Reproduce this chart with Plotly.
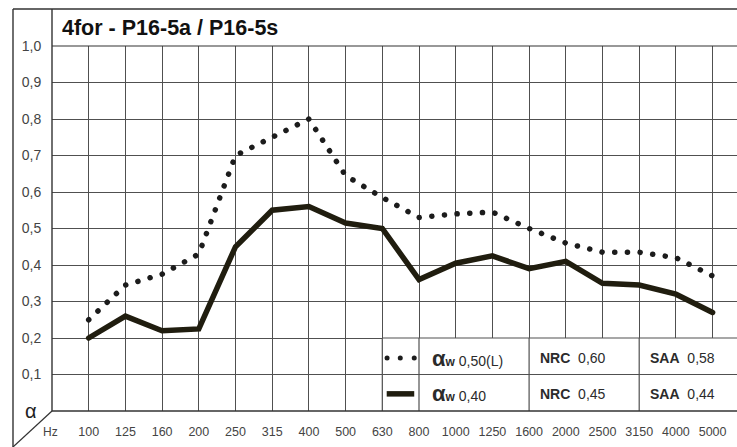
import plotly.graph_objects as go

# ---- data ----
freqs = ["100", "125", "160", "200", "250", "315", "400", "500", "630", "800",
         "1000", "1250", "1600", "2000", "2500", "3150", "4000", "5000"]
alpha_dotted = [0.25, 0.345, 0.375, 0.43, 0.70, 0.75, 0.80, 0.645, 0.585, 0.53,
                0.54, 0.545, 0.50, 0.46, 0.435, 0.435, 0.42, 0.37]
alpha_solid = [0.20, 0.26, 0.22, 0.225, 0.45, 0.55, 0.56, 0.515, 0.50, 0.36,
               0.405, 0.425, 0.39, 0.41, 0.35, 0.345, 0.32, 0.27]
ytick_vals = [0.1, 0.2, 0.3, 0.4, 0.5, 0.6, 0.7, 0.8, 0.9, 1.0]
ytick_text = ["0,1", "0,2", "0,3", "0,4", "0,5", "0,6", "0,7", "0,8", "0,9", "1,0"]
title = "4for - P16-5a / P16-5s"
legend_rows = [
    ("0,50(L)", "0,60", "0,58"),
    ("0,40", "0,45", "0,44"),
]

FONT = "Liberation Sans, Arial, sans-serif"
GRID = "#505050"
idx = list(range(len(freqs)))
XMAX = 17.665

fig = go.Figure()
fig.add_trace(go.Scatter(x=idx, y=alpha_dotted, mode="lines",
                         line=dict(color="#1c1c1c", width=5.5, dash="0.1px,12.6px"),
                         hoverinfo="skip", showlegend=False))
fig.add_trace(go.Scatter(x=idx, y=alpha_solid, mode="lines",
                         line=dict(color="#201d0f", width=5.5),
                         hoverinfo="skip", showlegend=False))

shapes = []
def pline(x0, y0, x1, y1, ref="paper", w=1.2, color=GRID):
    shapes.append(dict(type="line", xref=ref if ref == "paper" else "x",
                       yref=ref if ref == "paper" else "y",
                       x0=x0, y0=y0, x1=x1, y1=y1, layer="above",
                       line=dict(color=color, width=w)))

# outer frame
TOPQ = (411 - 9) / 365
BOTQ = (411 - 447) / 365
LEFTP = (13 - 52) / 685
pline(LEFTP, TOPQ, 1.0, TOPQ, color="#333333", w=1.4)
pline(LEFTP, TOPQ, LEFTP, BOTQ, color="#333333", w=1.4)
pline(0, TOPQ, 0, 0, color="#333333", w=1.4)
pline(0, 1, 1, 1, color="#333333", w=1.2)
pline(0, 0, LEFTP, BOTQ, color="#333333", w=1.2)

# legend table (white cell block)
shapes.append(dict(type="rect", xref="x", yref="y", x0=8, x1=XMAX, y0=0, y1=0.2,
                   fillcolor="white", line=dict(width=0), layer="above"))
for yy in (0.1, 0.2):
    pline(8, yy, XMAX, yy, ref="data")
for xx in (8, 9, 12, 15):
    pline(xx, 0, xx, 0.2, ref="data")
pline(0, 0, 1, 0, color="#333333", w=1.4)

# legend swatches
for xd in (8.13, 8.49, 8.87):
    shapes.append(dict(type="circle", xref="x", yref="y", xsizemode="pixel",
                       ysizemode="pixel", xanchor=xd, yanchor=0.145,
                       x0=-2.5, x1=2.5, y0=-2.5, y1=2.5,
                       fillcolor="#1c1c1c", line=dict(width=0), layer="above"))
shapes.append(dict(type="line", xref="x", yref="y", x0=8.12, x1=8.87, y0=0.047, y1=0.047,
                   line=dict(color="#201d0f", width=5.5), layer="above"))

annotations = []
annotations.append(dict(xref="paper", yref="paper", x=(60 - 52) / 685, y=(411 - 28) / 365,
                        xanchor="left", yanchor="middle", showarrow=False,
                        text="<b>" + title + "</b>",
                        font=dict(family=FONT, size=21.5, color="#111111")))
annotations.append(dict(xref="paper", yref="paper", x=(31 - 52) / 685, y=(411 - 411) / 365,
                        xanchor="center", yanchor="middle", showarrow=False,
                        text="α", font=dict(family=FONT, size=20, color="#222222")))
annotations.append(dict(xref="paper", yref="paper", x=(50 - 52) / 685, y=(411 - 432) / 365,
                        xanchor="center", yanchor="middle", showarrow=False,
                        text="Hz", font=dict(family=FONT, size=12, color="#444444")))
row_y = [0.145, 0.047]
for (aw, nrc, saa), yy in zip(legend_rows, row_y):
    annotations.append(dict(xref="x", yref="y", x=9.3, y=yy, xanchor="left", yanchor="middle",
                            showarrow=False,
                            text="<b style='font-size:22px'>α</b><b style='font-size:12px'>w</b> " + aw,
                            font=dict(family=FONT, size=14, color="#2b2b2b")))
    annotations.append(dict(xref="x", yref="y", x=12.24, y=yy, xanchor="left", yanchor="middle",
                            showarrow=False, text="<b>NRC</b>  " + nrc,
                            font=dict(family=FONT, size=14, color="#2b2b2b")))
    annotations.append(dict(xref="x", yref="y", x=15.24, y=yy, xanchor="left", yanchor="middle",
                            showarrow=False, text="<b>SAA</b>  " + saa,
                            font=dict(family=FONT, size=14, color="#2b2b2b")))

fig.update_layout(
    width=737, height=447,
    margin=dict(l=52, r=0, t=46, b=36),
    paper_bgcolor="white", plot_bgcolor="white",
    shapes=shapes, annotations=annotations,
    xaxis=dict(range=[-1, XMAX], tickvals=idx, ticktext=freqs, showgrid=True,
               gridcolor=GRID, gridwidth=1.2, zeroline=False, showline=False,
               ticks="outside", ticklen=9, tickcolor="rgba(0,0,0,0)",
               tickfont=dict(family=FONT, size=12.5, color="#444444"), fixedrange=True),
    yaxis=dict(range=[0, 1], tickvals=ytick_vals, ticktext=ytick_text, showgrid=True,
               gridcolor=GRID, gridwidth=1.2, zeroline=False, showline=False,
               ticks="outside", ticklen=7, tickcolor="rgba(0,0,0,0)",
               tickfont=dict(family=FONT, size=14, color="#444444"), fixedrange=True),
    showlegend=False,
)

post = """
var s=document.createElement('style');
s.textContent='html,body{margin:0 !important;padding:0 !important;overflow:hidden;} path.js-line{stroke-linecap:round !important;}';
document.head.appendChild(s);
"""
fig.write_html("out.html", post_script=post, config={"displayModeBar": False})
